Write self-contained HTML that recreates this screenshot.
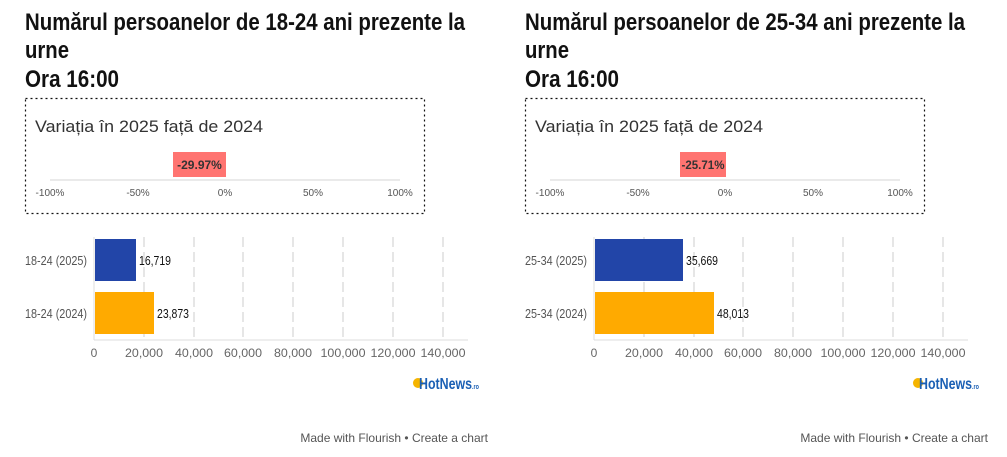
<!DOCTYPE html>
<html><head><meta charset="utf-8"><style>
body{margin:0;width:1007px;height:452px;background:#fff;overflow:hidden;font-family:"Liberation Sans",sans-serif}
</style></head><body>
<svg width="1007" height="452" xmlns="http://www.w3.org/2000/svg">
<defs>
<g id="panel">
  <rect x="25.5" y="98.5" width="399" height="115" fill="none" stroke="#111" stroke-width="1.2" stroke-dasharray="2,3"/>
  <text x="35" y="132" font-size="17" fill="#333" textLength="228" lengthAdjust="spacingAndGlyphs">Variația în 2025 față de 2024</text>
  <line x1="50" y1="180" x2="400" y2="180" stroke="#e4e4e4" stroke-width="1.5"/>
  <g font-size="10" fill="#555" text-anchor="middle">
    <text x="50" y="196">-100%</text><text x="138" y="196">-50%</text><text x="225" y="196">0%</text><text x="313" y="196">50%</text><text x="400" y="196">100%</text>
  </g>
  <g stroke="#ccc" stroke-width="1" stroke-dasharray="10,5">
    <line x1="144" y1="237" x2="144" y2="338"/><line x1="194" y1="237" x2="194" y2="338"/><line x1="243" y1="237" x2="243" y2="338"/><line x1="293" y1="237" x2="293" y2="338"/><line x1="343" y1="237" x2="343" y2="338"/><line x1="393" y1="237" x2="393" y2="338"/><line x1="443" y1="237" x2="443" y2="338"/>
  </g>
  <line x1="94" y1="340" x2="468" y2="340" stroke="#ddd"/>
  <line x1="94" y1="237" x2="94" y2="340" stroke="#ddd"/>
  <g font-size="12" fill="#666" text-anchor="middle">
    <text x="94" y="357">0</text>
    <text x="144" y="357" textLength="38" lengthAdjust="spacingAndGlyphs">20,000</text>
    <text x="194" y="357" textLength="38" lengthAdjust="spacingAndGlyphs">40,000</text>
    <text x="243" y="357" textLength="38" lengthAdjust="spacingAndGlyphs">60,000</text>
    <text x="293" y="357" textLength="38" lengthAdjust="spacingAndGlyphs">80,000</text>
    <text x="343" y="357" textLength="45" lengthAdjust="spacingAndGlyphs">100,000</text>
    <text x="393" y="357" textLength="45" lengthAdjust="spacingAndGlyphs">120,000</text>
    <text x="443" y="357" textLength="45" lengthAdjust="spacingAndGlyphs">140,000</text>
  </g>
  <circle cx="418" cy="383" r="5" fill="#f5b400"/>
  <text x="419" y="389" font-size="16" font-weight="bold" fill="#1a5fb4" textLength="60" lengthAdjust="spacingAndGlyphs">HotNews<tspan font-size="7">.ro</tspan></text>
  <text x="488" y="442" font-size="12" fill="#555" text-anchor="end">Made with Flourish • Create a chart</text>
</g>
</defs>
<use href="#panel"/>
<use href="#panel" x="500"/>
<g font-weight="bold" font-size="24" fill="#111">
  <text x="25" y="30" textLength="440" lengthAdjust="spacingAndGlyphs">Numărul persoanelor de 18-24 ani prezente la</text><text x="25" y="58" textLength="44" lengthAdjust="spacingAndGlyphs">urne</text><text x="25" y="87" textLength="94" lengthAdjust="spacingAndGlyphs">Ora 16:00</text>
  <text x="525" y="30" textLength="440" lengthAdjust="spacingAndGlyphs">Numărul persoanelor de 25-34 ani prezente la</text><text x="525" y="58" textLength="44" lengthAdjust="spacingAndGlyphs">urne</text><text x="525" y="87" textLength="94" lengthAdjust="spacingAndGlyphs">Ora 16:00</text>
</g>
<rect x="173" y="152" width="53" height="25" fill="#ff7471"/>
<text x="199.5" y="169" font-size="12" font-weight="bold" fill="#333" text-anchor="middle">-29.97%</text>
<rect x="680" y="152" width="46" height="25" fill="#ff7471"/>
<text x="703" y="169" font-size="12" font-weight="bold" fill="#333" text-anchor="middle" textLength="43" lengthAdjust="spacingAndGlyphs">-25.71%</text>
<g font-size="13">
  <rect x="95" y="239" width="41" height="42" fill="#2245a8"/>
  <rect x="95" y="292" width="59" height="42" fill="#ffaa00"/>
  <text x="139" y="265" fill="#111" textLength="32" lengthAdjust="spacingAndGlyphs">16,719</text><text x="157" y="318" fill="#111" textLength="32" lengthAdjust="spacingAndGlyphs">23,873</text>
  <text x="25" y="265" fill="#555" textLength="62" lengthAdjust="spacingAndGlyphs">18-24 (2025)</text><text x="25" y="318" fill="#555" textLength="62" lengthAdjust="spacingAndGlyphs">18-24 (2024)</text>
  <rect x="595" y="239" width="88" height="42" fill="#2245a8"/>
  <rect x="595" y="292" width="119" height="42" fill="#ffaa00"/>
  <text x="686" y="265" fill="#111" textLength="32" lengthAdjust="spacingAndGlyphs">35,669</text><text x="717" y="318" fill="#111" textLength="32" lengthAdjust="spacingAndGlyphs">48,013</text>
  <text x="525" y="265" fill="#555" textLength="62" lengthAdjust="spacingAndGlyphs">25-34 (2025)</text><text x="525" y="318" fill="#555" textLength="62" lengthAdjust="spacingAndGlyphs">25-34 (2024)</text>
</g>
</svg>
</body></html>
